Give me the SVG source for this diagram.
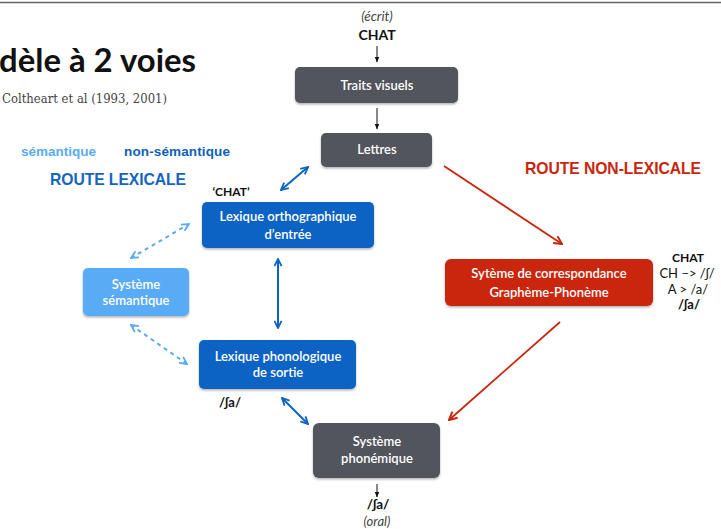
<svg xmlns="http://www.w3.org/2000/svg" width="721" height="529" viewBox="0 0 721 529">
<defs>
<filter id="sh" x="-10%" y="-10%" width="120%" height="130%"><feDropShadow dx="0" dy="1.5" stdDeviation="1.2" flood-color="#000" flood-opacity="0.3"/></filter>
<marker id="mb" viewBox="0 0 10 10" refX="9" refY="5" markerWidth="9" markerHeight="9" markerUnits="userSpaceOnUse" orient="auto-start-reverse"><path d="M1,1 L9,5 L1,9" fill="none" stroke="#0b63c4" stroke-width="2"/></marker>
<marker id="ml" viewBox="0 0 10 10" refX="9" refY="5" markerWidth="9" markerHeight="9" markerUnits="userSpaceOnUse" orient="auto-start-reverse"><path d="M1,1 L9,5 L1,9" fill="none" stroke="#5aabf5" stroke-width="2"/></marker>
<marker id="mr" viewBox="0 0 10 10" refX="9" refY="5" markerWidth="10" markerHeight="10" markerUnits="userSpaceOnUse" orient="auto"><path d="M1,1 L9,5 L1,9" fill="none" stroke="#c9250c" stroke-width="2"/></marker>
<marker id="mk" viewBox="0 0 10 10" refX="9" refY="5" markerWidth="6" markerHeight="6" markerUnits="userSpaceOnUse" orient="auto"><path d="M0,1 L10,5 L0,9 Z" fill="#111"/></marker>
</defs>
<style>
.nt{font-family:Lato,"Open Sans","Noto Sans",sans-serif;font-size:13px;fill:#fff;text-anchor:middle;font-weight:600}
.gray{fill:#52555b}
.blue{fill:#0b63c4}
.lblue{fill:#5aabf5}
.red{fill:#c9250c}
.lbl{font-family:"Liberation Sans",Arial,sans-serif;font-weight:bold}
.sm{font-family:Lato,"Open Sans",sans-serif;fill:#111}
.b{font-weight:bold}
.it{font-style:italic;fill:#444}
</style>
<rect x="0" y="0" width="721" height="529" fill="#fff"/>
<line x1="0" y1="2.5" x2="721" y2="2.5" stroke="#666" stroke-width="1.5"/>

<text x="-1" y="72" font-family="Lato,'Open Sans',sans-serif" font-weight="bold" font-size="32" fill="#111" textLength="197" lengthAdjust="spacingAndGlyphs">dèle à 2 voies</text>
<text x="2" y="103" font-family="'DejaVu Serif','Liberation Serif',serif" font-size="12.5" fill="#444" textLength="165" lengthAdjust="spacingAndGlyphs">Coltheart et al (1993, 2001)</text>
<text class="lbl" x="21" y="156" font-size="13.5" fill="#5aabf5" textLength="75">sémantique</text>
<text class="lbl" x="124" y="156" font-size="13.5" fill="#0d5fb8" textLength="106">non-sémantique</text>
<text class="lbl" x="50" y="185" font-size="15.7" fill="#1565c0" textLength="136">ROUTE LEXICALE</text>
<text class="lbl" x="525" y="174" font-size="15.7" fill="#c9250c" textLength="176">ROUTE NON-LEXICALE</text>

<text class="sm it" x="377" y="21" text-anchor="middle" font-size="13.5">(écrit)</text>
<text class="sm b" x="377" y="40" text-anchor="middle" font-size="14">CHAT</text>
<text class="sm b" x="231" y="196" text-anchor="middle" font-size="12">‘CHAT’</text>
<text class="sm b" x="230" y="407" text-anchor="middle" font-size="13">/ʃa/</text>
<text class="sm b" x="378" y="509" text-anchor="middle" font-size="13.5">/ʃa/</text>
<text class="sm it" x="377" y="526" text-anchor="middle" font-size="13">(oral)</text>
<g text-anchor="middle">
<text class="sm b" x="688" y="262" font-size="12">CHAT</text>
<text class="sm" x="687" y="278" fill="#333" font-size="13">CH  –&gt; /ʃ/</text>
<text class="sm" x="688" y="294" fill="#333" font-size="13">A &gt; /a/</text>
<text class="sm b" x="689" y="309" font-size="13">/ʃa/</text>
</g>

<g id="connectors" fill="none">
<line x1="377" y1="46" x2="377" y2="62" stroke="#111" stroke-width="1" marker-end="url(#mk)"/>
<line x1="377" y1="108" x2="377" y2="129" stroke="#111" stroke-width="1" marker-end="url(#mk)"/>
<line x1="377" y1="484" x2="377" y2="497" stroke="#111" stroke-width="1" marker-end="url(#mk)"/>
<line x1="281" y1="190" x2="308" y2="167" stroke="#0b63c4" stroke-width="2" marker-start="url(#mb)" marker-end="url(#mb)"/>
<line x1="278" y1="259" x2="278" y2="328" stroke="#0b63c4" stroke-width="2" marker-start="url(#mb)" marker-end="url(#mb)"/>
<line x1="282" y1="398" x2="308" y2="424" stroke="#0b63c4" stroke-width="2" marker-start="url(#mb)" marker-end="url(#mb)"/>
<line x1="131" y1="258" x2="189" y2="224" stroke="#5aabf5" stroke-width="2" stroke-dasharray="4,4" marker-start="url(#ml)" marker-end="url(#ml)"/>
<line x1="131" y1="325" x2="187" y2="364" stroke="#5aabf5" stroke-width="2" stroke-dasharray="4,4" marker-start="url(#ml)" marker-end="url(#ml)"/>
<line x1="444" y1="166" x2="562" y2="244" stroke="#c9250c" stroke-width="1.8" marker-end="url(#mr)"/>
<line x1="560" y1="322" x2="449" y2="420" stroke="#c9250c" stroke-width="1.8" marker-end="url(#mr)"/>
</g>

<g id="traits"><rect class="gray" x="295" y="67" width="163" height="36" rx="5" filter="url(#sh)"/><text class="nt" x="377" y="90">Traits visuels</text></g>
<g id="lettres"><rect class="gray" x="321" y="133" width="111" height="34" rx="5" filter="url(#sh)"/><text class="nt" x="377" y="154">Lettres</text></g>
<g id="lexortho"><rect class="blue" x="202" y="202" width="172" height="46" rx="5" filter="url(#sh)"/><text class="nt" x="288" y="221">Lexique orthographique</text><text class="nt" x="288" y="239">d’entrée</text></g>
<g id="semantique"><rect class="lblue" x="83" y="268" width="106" height="48" rx="5" filter="url(#sh)"/><text class="nt" x="136" y="289">Système</text><text class="nt" x="136" y="305">sémantique</text></g>
<g id="lexphono"><rect class="blue" x="199" y="340" width="157" height="49" rx="5" filter="url(#sh)"/><text class="nt" x="278" y="361">Lexique phonologique</text><text class="nt" x="278" y="377">de sortie</text></g>
<g id="phonemique"><rect class="gray" x="313" y="423" width="127" height="55" rx="6" filter="url(#sh)"/><text class="nt" x="377" y="446">Système</text><text class="nt" x="377" y="463">phonémique</text></g>
<g id="gpc"><rect class="red" x="445" y="259" width="208" height="47" rx="6" filter="url(#sh)"/><text class="nt" x="549" y="278">Sytème de correspondance</text><text class="nt" x="549" y="297">Graphème-Phonème</text></g>
</svg>
